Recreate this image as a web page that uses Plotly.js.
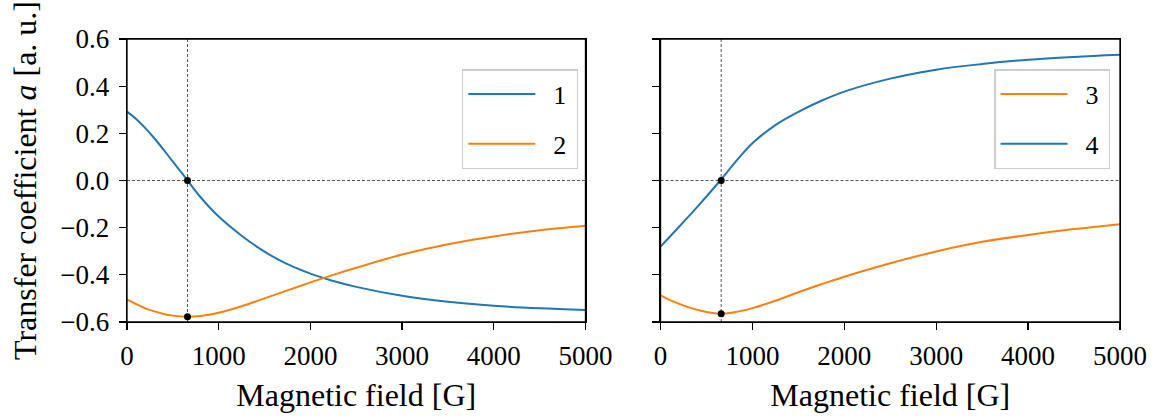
<!DOCTYPE html>
<html>
<head>
<meta charset="utf-8">
<script src="https://cdn.plot.ly/plotly-3.0.1.min.js"></script>
<style>html,body{margin:0;padding:0;background:#fff;}#chart{width:1155px;height:418px;}</style>
</head>
<body>
<div id="chart"></div>
<script>
// ---- data ----
const field1 = [0, 100, 200, 300, 400, 500, 600, 660, 800, 1000, 1250, 1500, 1750, 2000, 2250, 2500, 3000, 3500, 4000, 4500, 5000];
const coef1  = [0.292, 0.261, 0.222, 0.178, 0.130, 0.080, 0.031, 0.0, -0.070, -0.153, -0.234, -0.302, -0.355, -0.395, -0.426, -0.451, -0.489, -0.514, -0.531, -0.542, -0.549];

const field2 = [0, 100, 200, 300, 400, 500, 660, 800, 1000, 1250, 1500, 1750, 2000, 2250, 2500, 3000, 3500, 4000, 4500, 5000];
const coef2  = [-0.504, -0.524, -0.542, -0.555, -0.566, -0.573, -0.578, -0.575, -0.561, -0.533, -0.500, -0.466, -0.432, -0.400, -0.370, -0.314, -0.270, -0.237, -0.211, -0.192];

const field3 = [0, 150, 300, 450, 650, 800, 1000, 1250, 1500, 1750, 2000, 2500, 3000, 3500, 4000, 4500, 5000];
const coef3  = [-0.487, -0.515, -0.537, -0.553, -0.565, -0.559, -0.541, -0.510, -0.474, -0.440, -0.408, -0.351, -0.301, -0.260, -0.231, -0.206, -0.185];

const field4 = [0, 200, 400, 650, 850, 1000, 1250, 1500, 1750, 2000, 2500, 3000, 3500, 4000, 4500, 5000];
const coef4  = [-0.280, -0.197, -0.112, 0.0, 0.095, 0.158, 0.235, 0.291, 0.338, 0.377, 0.432, 0.470, 0.494, 0.512, 0.524, 0.533];

// special points (zero crossing / minimum) at the resonance field
const markField = [660, 660];
const markLeft  = [0.0, -0.578];
const markRight = [0.0, -0.565];
const crossingField = 660;
const zeroLevel = 0;

const legendLeft  = ['1', '2'];
const legendRight = ['3', '4'];
const xTicks = [0, 1000, 2000, 3000, 4000, 5000];
const yTicks = [-0.6, -0.4, -0.2, 0.0, 0.2, 0.4, 0.6];

const blue = '#1f77b4', orange = '#ff7f0e';
const FONT = 'Liberation Serif';
const domLeft = [0, 0.4617], domRight = [0.5373, 1];

function fnt(size) { return {family: FONT, size: size, color: '#000'}; }
function lbl(s) { return '\u2002' + s + '\u2009'; }
function curve(x, y, name, color, xa, ya, lg, grp) {
  return {x: x, y: y, name: lbl(name), xaxis: xa, yaxis: ya, mode: 'lines',
    line: {color: color, width: 2, shape: 'spline', smoothing: 1}, legend: lg, legendgroup: grp, hoverinfo: 'skip'};
}

const traces = [
  curve(field1, coef1, legendLeft[0], blue, 'x', 'y', 'legend', 'a'),
  curve(field2, coef2, legendLeft[1], orange, 'x', 'y', 'legend', 'b'),
  curve(field3, coef3, legendRight[0], orange, 'x2', 'y2', 'legend2', 'c'),
  curve(field4, coef4, legendRight[1], blue, 'x2', 'y2', 'legend2', 'd'),
  {x: markField, y: markLeft, xaxis: 'x', yaxis: 'y', mode: 'markers', marker: {color: '#000', size: 7}, showlegend: false, hoverinfo: 'skip'},
  {x: markField, y: markRight, xaxis: 'x2', yaxis: 'y2', mode: 'markers', marker: {color: '#000', size: 7}, showlegend: false, hoverinfo: 'skip'}
];

const shapes = [];
[['x', 'y'], ['x2', 'y2']].forEach(([xa, ya]) => {
  shapes.push({type: 'line', layer: 'below', xref: xa + ' domain', yref: ya, x0: 0, x1: 1, y0: zeroLevel, y1: zeroLevel, line: {color: '#555', width: 1, dash: '3px,2px'}});
  shapes.push({type: 'line', layer: 'below', xref: xa, yref: ya + ' domain', x0: crossingField, x1: crossingField, y0: 0, y1: 1, line: {color: '#555', width: 1, dash: '3px,2px'}});
});
// frames (axes boxes) in paper coordinates so they are not clipped
[domLeft, domRight].forEach(d => {
  shapes.push({type: 'rect', layer: 'above', xref: 'paper', yref: 'paper', x0: d[0], x1: d[1], y0: 0, y1: 1, line: {color: '#000', width: 1.3}, fillcolor: 'rgba(0,0,0,0)'});
});

function axis(extra) {
  return Object.assign({
    showline: true, mirror: true, linecolor: '#000', linewidth: 1.3,
    ticks: 'outside', ticklen: 7, tickwidth: 1.3, tickcolor: '#000',
    showgrid: false, zeroline: false,
    tickfont: fnt(27)
  }, extra);
}

function legend(x) {
  return {
    font: fnt(26),
    bgcolor: 'rgba(255,255,255,0.8)', bordercolor: '#cccccc', borderwidth: 1.3,
    xanchor: 'right', yanchor: 'top', x: x, y: 0.893,
    traceorder: 'grouped', tracegroupgap: 13, itemwidth: 67
  };
}

const layout = {
  width: 1155, height: 418,
  margin: {l: 127, r: 35, t: 39, b: 96},
  paper_bgcolor: '#fff', plot_bgcolor: '#fff',
  font: fnt(27),
  showlegend: true,
  xaxis: axis({domain: domLeft, range: [0, 5000], anchor: 'y', tickvals: xTicks, ticklabelstandoff: 2,
    title: {text: 'Magnetic field [G]', font: fnt(32), standoff: 14}}),
  xaxis2: axis({domain: domRight, range: [0, 5000], anchor: 'y2', tickvals: xTicks, ticklabelstandoff: 2,
    title: {text: 'Magnetic field [G]', font: fnt(32), standoff: 14}}),
  yaxis: axis({range: [-0.6, 0.6], anchor: 'x', tickvals: yTicks, tickformat: '.1f', ticklabelstandoff: 4,
    title: {text: 'Transfer coefficient <i>a</i> [a. u.]', font: fnt(32), standoff: 14}}),
  yaxis2: axis({range: [-0.6, 0.6], anchor: 'x2', matches: 'y', tickvals: yTicks, showticklabels: false}),
  legend: legend(0.4542),
  legend2: legend(0.9902),
  shapes: shapes
};

Plotly.newPlot('chart', traces, layout, {displayModeBar: false, staticPlot: true});
</script>
</body>
</html>
